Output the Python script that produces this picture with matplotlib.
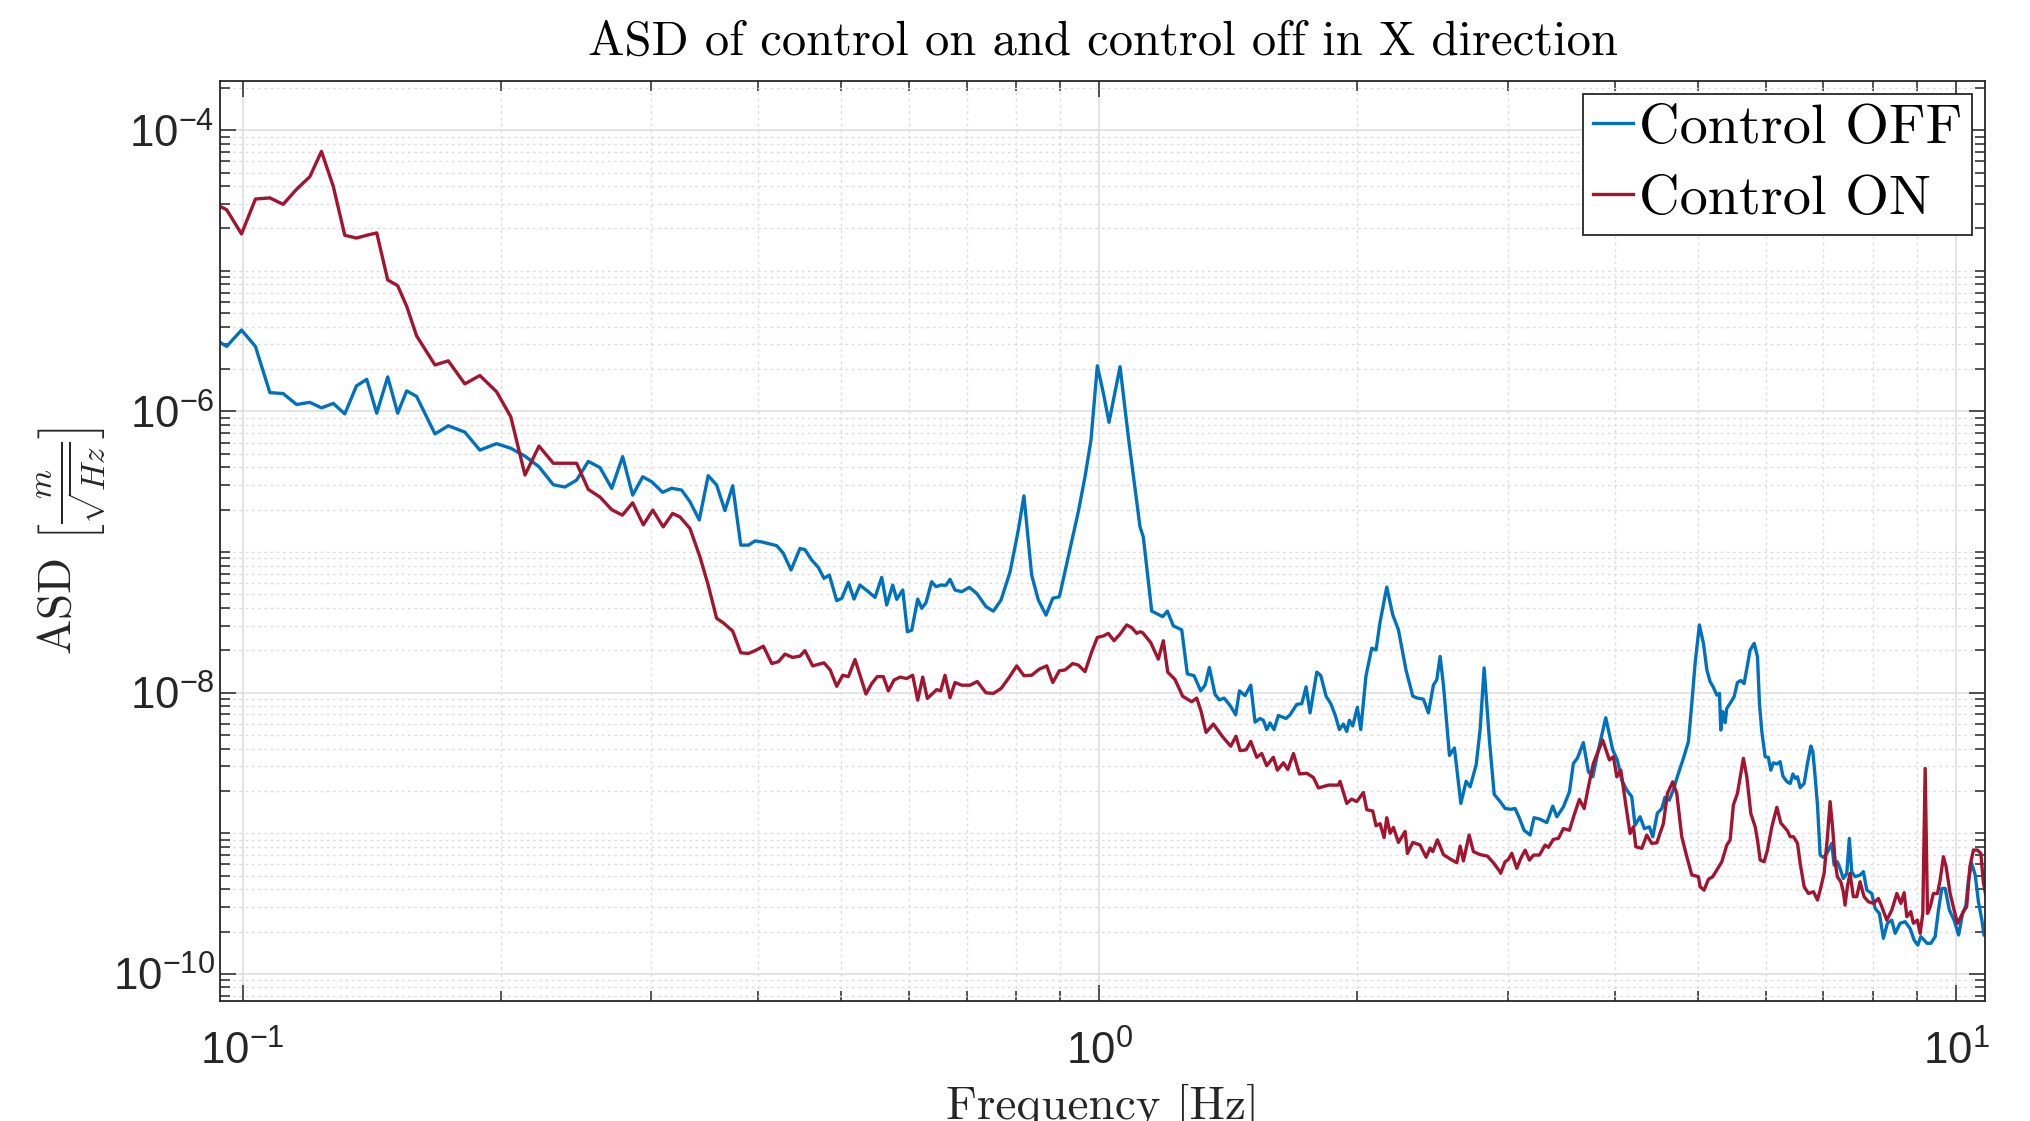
import numpy as np
import matplotlib
matplotlib.use("Agg")
import matplotlib.pyplot as plt
from matplotlib import font_manager
from matplotlib.ticker import FixedLocator, FuncFormatter, NullFormatter

# ASD with control OFF (blue)
freq_off = [
    0.0936, 0.0958, 0.0997, 0.1035, 0.1076, 0.1115, 0.1156, 0.1198, 0.1236, 0.1276,
    0.1316, 0.1358, 0.1396, 0.1434, 0.1477, 0.1517, 0.1554, 0.1596, 0.1677, 0.1738,
    0.1817, 0.1892, 0.1979, 0.2056, 0.2136, 0.2218, 0.2305, 0.2378, 0.2454, 0.2532,
    0.2613, 0.2697, 0.2777, 0.2853, 0.2931, 0.3003, 0.3092, 0.3168, 0.3254, 0.3328,
    0.3412, 0.3495, 0.3575, 0.3656, 0.3733, 0.3815, 0.3894, 0.3965, 0.4036, 0.4202,
    0.4277, 0.4367, 0.4473, 0.4533, 0.4616, 0.4699, 0.4771, 0.4840, 0.4937, 0.5005,
    0.5094, 0.5172, 0.5256, 0.5375, 0.5473, 0.5572, 0.5647, 0.5739, 0.5801, 0.5896,
    0.5970, 0.6040, 0.6138, 0.6205, 0.6276, 0.6372, 0.6447, 0.6529, 0.6622, 0.6694,
    0.6785, 0.6909, 0.7050, 0.7193, 0.7374, 0.7522, 0.7679, 0.7868, 0.8043, 0.8166,
    0.8337, 0.8488, 0.8665, 0.8824, 0.8982, 0.9201, 0.9452, 0.9623, 0.9779, 0.9947,
    1.0109, 1.0264, 1.0573, 1.0811, 1.1156, 1.1255, 1.1512, 1.1858, 1.2007, 1.2203,
    1.2479, 1.2669, 1.2900, 1.3132, 1.3287, 1.3442, 1.3649, 1.3808, 1.3984, 1.4212,
    1.4430, 1.4573, 1.4796, 1.5023, 1.5198, 1.5403, 1.5541, 1.5682, 1.5823, 1.5993,
    1.6181, 1.6519, 1.6697, 1.7001, 1.7232, 1.7433, 1.7620, 1.7941, 1.8135, 1.8395,
    1.8628, 1.8845, 1.9065, 1.9269, 1.9446, 1.9584, 1.9762, 2.0008, 2.0192, 2.0479,
    2.0797, 2.1038, 2.1266, 2.1654, 2.2007, 2.2343, 2.2807, 2.3225, 2.3511, 2.3893,
    2.4219, 2.4546, 2.4773, 2.4992, 2.5217, 2.5627, 2.5972, 2.6424, 2.6803, 2.7094,
    2.7535, 2.7830, 2.8130, 2.8536, 2.8901, 2.9371, 2.976, 3.022, 3.057, 3.093,
    3.132, 3.183, 3.217, 3.269, 3.329, 3.383, 3.420, 3.481, 3.538, 3.576,
    3.614, 3.673, 3.723, 3.767, 3.824, 3.901, 3.975, 4.024, 4.072, 4.127,
    4.183, 4.220, 4.278, 4.327, 4.386, 4.426, 4.481, 4.535, 4.574, 4.627,
    4.677, 4.742, 4.806, 4.871, 4.916, 4.960, 5.017, 5.072, 5.119, 5.163,
    5.210, 5.257, 5.295, 5.314, 5.343, 5.377, 5.400, 5.449, 5.508, 5.557,
    5.608, 5.658, 5.699, 5.750, 5.813, 5.865, 5.896, 5.934, 5.987, 6.039,
    6.079, 6.122, 6.178, 6.233, 6.279, 6.347, 6.404, 6.450, 6.490, 6.531,
    6.578, 6.649, 6.708, 6.769, 6.806, 6.848, 6.891, 6.941, 7.003, 7.067,
    7.161, 7.206, 7.269, 7.322, 7.387, 7.456, 7.507, 7.556, 7.623, 7.726,
    7.796, 7.868, 7.974, 8.046, 8.139, 8.227, 8.316, 8.414, 8.491, 8.605,
    8.722, 8.839, 8.935, 9.024, 9.098, 9.180, 9.247, 9.347, 9.455, 9.539,
    9.625, 9.712, 9.824, 9.949, 10.07, 10.18, 10.27, 10.34, 10.43, 10.53,
    10.62, 10.72, 10.78, 10.84,
]
asd_off = [
    3.16e-6, 2.90e-6, 3.79e-6, 2.90e-6, 1.36e-6, 1.34e-6, 1.12e-6, 1.16e-6, 1.06e-6, 1.14e-6,
    9.60e-7, 1.52e-6, 1.69e-6, 9.71e-7, 1.76e-6, 9.71e-7, 1.40e-6, 1.28e-6, 6.92e-7, 7.91e-7,
    7.13e-7, 5.31e-7, 5.90e-7, 5.47e-7, 4.81e-7, 4.04e-7, 3.01e-7, 2.90e-7, 3.25e-7, 4.41e-7,
    3.99e-7, 2.84e-7, 4.77e-7, 2.54e-7, 3.43e-7, 3.16e-7, 2.66e-7, 2.84e-7, 2.76e-7, 2.28e-7,
    1.69e-7, 3.49e-7, 3.00e-7, 1.97e-7, 2.96e-7, 1.12e-7, 1.12e-7, 1.20e-7, 1.18e-7, 1.11e-7,
    9.79e-8, 7.45e-8, 1.06e-7, 1.04e-7, 8.77e-8, 7.78e-8, 6.50e-8, 6.86e-8, 4.51e-8, 4.69e-8,
    6.09e-8, 4.63e-8, 5.82e-8, 5.22e-8, 4.76e-8, 6.61e-8, 4.20e-8, 5.82e-8, 4.61e-8, 5.37e-8,
    2.71e-8, 2.78e-8, 4.63e-8, 3.98e-8, 4.36e-8, 6.15e-8, 5.67e-8, 5.82e-8, 5.80e-8, 6.40e-8,
    5.37e-8, 5.22e-8, 5.61e-8, 5.08e-8, 4.09e-8, 3.80e-8, 4.56e-8, 7.24e-8, 1.43e-7, 2.51e-7,
    6.86e-8, 4.56e-8, 3.56e-8, 4.69e-8, 4.81e-8, 9.27e-8, 1.94e-7, 3.43e-7, 6.27e-7, 2.11e-6,
    1.35e-6, 8.36e-7, 2.08e-6, 6.60e-7, 1.51e-7, 1.28e-7, 3.80e-8, 3.47e-8, 3.80e-8, 2.98e-8,
    2.80e-8, 1.36e-8, 1.32e-8, 1.03e-8, 1.13e-8, 1.51e-8, 9.72e-9, 8.87e-9, 9.15e-9, 8.10e-9,
    6.96e-9, 1.03e-8, 9.54e-9, 1.13e-8, 6.17e-9, 6.55e-9, 6.36e-9, 5.46e-9, 6.09e-9, 5.46e-9,
    6.88e-9, 6.55e-9, 6.96e-9, 8.25e-9, 8.35e-9, 1.10e-8, 7.18e-9, 1.40e-8, 1.32e-8, 9.43e-9,
    8.35e-9, 6.96e-9, 5.46e-9, 5.98e-9, 5.30e-9, 6.36e-9, 5.80e-9, 7.86e-9, 5.46e-9, 1.32e-8,
    2.07e-8, 2.01e-8, 3.17e-8, 5.63e-8, 3.57e-8, 2.80e-8, 1.44e-8, 9.43e-9, 9.15e-9, 8.98e-9,
    7.18e-9, 1.13e-8, 1.24e-8, 1.81e-8, 1.13e-8, 3.58e-9, 4.04e-9, 1.63e-9, 2.34e-9, 2.14e-9,
    3.07e-9, 5.46e-9, 1.50e-8, 4.56e-9, 1.89e-9, 1.68e-9, 1.50e-9, 1.48e-9, 1.50e-9, 1.28e-9,
    1.05e-9, 9.71e-10, 1.29e-9, 1.26e-9, 1.19e-9, 1.56e-9, 1.31e-9, 1.54e-9, 1.97e-9, 3.14e-9,
    3.41e-9, 4.41e-9, 2.74e-9, 2.52e-9, 3.91e-9, 6.63e-9, 3.91e-9, 3.32e-9, 2.39e-9, 2.03e-9,
    1.82e-9, 1.14e-9, 1.31e-9, 1.08e-9, 1.11e-9, 9.44e-10, 1.39e-9, 1.50e-9, 1.80e-9, 1.72e-9,
    2.03e-9, 2.67e-9, 3.41e-9, 4.48e-9, 8.39e-9, 1.62e-8, 3.03e-8, 2.24e-8, 1.45e-8, 1.20e-8,
    1.09e-8, 9.61e-9, 9.88e-9, 5.42e-9, 7.32e-9, 6.11e-9, 7.73e-9, 8.39e-9, 9.36e-9, 1.18e-8,
    1.22e-8, 1.16e-8, 1.49e-8, 2.01e-8, 2.24e-8, 1.80e-8, 8.39e-9, 5.27e-9, 3.50e-9, 3.46e-9,
    2.81e-9, 3.17e-9, 3.11e-9, 3.23e-9, 2.55e-9, 2.33e-9, 2.26e-9, 2.64e-9, 2.46e-9, 2.52e-9,
    2.11e-9, 2.26e-9, 3.14e-9, 4.17e-9, 3.80e-9, 2.52e-9, 1.59e-9, 7.00e-10, 6.73e-10, 7.19e-10,
    8.47e-10, 5.94e-10, 6.27e-10, 5.62e-10, 4.77e-10, 5.18e-10, 9.19e-10, 5.33e-10, 4.91e-10, 5.04e-10,
    5.33e-10, 3.94e-10, 3.73e-10, 2.92e-10, 2.69e-10, 1.79e-10, 2.29e-10, 2.41e-10, 1.94e-10, 2.29e-10,
    2.35e-10, 2.10e-10, 1.74e-10, 1.60e-10, 1.84e-10, 1.74e-10, 1.65e-10, 1.65e-10, 1.84e-10, 2.84e-10,
    4.05e-10, 4.05e-10, 2.84e-10, 2.41e-10, 1.89e-10, 2.69e-10, 3.08e-10, 4.65e-10, 6.10e-10, 5.04e-10,
    3.26e-10, 2.41e-10, 1.89e-10, 1.84e-10,
]

# ASD with control ON (red)
freq_on = [
    0.0936, 0.0958, 0.0997, 0.1035, 0.1076, 0.1115, 0.1156, 0.1198, 0.1236, 0.1276,
    0.1316, 0.1358, 0.1396, 0.1434, 0.1477, 0.1517, 0.1554, 0.1596, 0.1677, 0.1738,
    0.1817, 0.1892, 0.1979, 0.2056, 0.2136, 0.2218, 0.2305, 0.2454, 0.2532, 0.2613,
    0.2697, 0.2775, 0.2853, 0.2936, 0.3011, 0.3097, 0.3176, 0.3239, 0.3328, 0.3418,
    0.3495, 0.3575, 0.3639, 0.3733, 0.3815, 0.3894, 0.3965, 0.4054, 0.4147, 0.4220,
    0.4297, 0.4385, 0.4473, 0.4533, 0.4628, 0.4720, 0.4771, 0.4851, 0.4937, 0.5018,
    0.5094, 0.5186, 0.5256, 0.5341, 0.5424, 0.5506, 0.5596, 0.5672, 0.5760, 0.5853,
    0.5959, 0.6055, 0.6138, 0.6221, 0.6299, 0.6458, 0.6529, 0.6605, 0.6694, 0.6785,
    0.6909, 0.7065, 0.7204, 0.7374, 0.7522, 0.7679, 0.7831, 0.8009, 0.8166, 0.8337,
    0.8511, 0.8682, 0.8824, 0.8982, 0.9120, 0.9310, 0.9452, 0.9623, 0.9797, 0.9947,
    1.0109, 1.0245, 1.0404, 1.0573, 1.0764, 1.0910, 1.1058, 1.1156, 1.1236, 1.1482,
    1.1718, 1.1877, 1.2019, 1.2256, 1.2511, 1.2818, 1.2992, 1.3143, 1.3323, 1.3587,
    1.3935, 1.4236, 1.4441, 1.4598, 1.4836, 1.5023, 1.5265, 1.5473, 1.5682, 1.5965,
    1.6140, 1.6402, 1.6596, 1.6850, 1.7124, 1.7466, 1.7780, 1.8023, 1.8511, 1.9011,
    1.9099, 1.9446, 1.9702, 1.9976, 2.0333, 2.0520, 2.0853, 2.1038, 2.1266, 2.1497,
    2.1654, 2.1850, 2.2043, 2.2343, 2.2749, 2.2890, 2.3225, 2.3682, 2.4069, 2.4329,
    2.4505, 2.4813, 2.5217, 2.5673, 2.6140, 2.6376, 2.6608, 2.7019, 2.7332, 2.7830,
    2.8379, 2.8840, 2.9371, 2.941, 2.976, 3.002, 3.030, 3.071, 3.104, 3.141,
    3.177, 3.212, 3.264, 3.314, 3.344, 3.388, 3.435, 3.481, 3.538, 3.583,
    3.634, 3.681, 3.723, 3.773, 3.869, 3.939, 3.982, 4.018, 4.062, 4.120,
    4.164, 4.202, 4.229, 4.298, 4.355, 4.414, 4.474, 4.554, 4.604, 4.670,
    4.721, 4.785, 4.850, 4.916, 5.004, 5.026, 5.081, 5.140, 5.200, 5.257,
    5.329, 5.400, 5.449, 5.497, 5.557, 5.647, 5.699, 5.761, 5.829, 5.865,
    5.907, 5.971, 6.024, 6.095, 6.178, 6.245, 6.301, 6.357, 6.404, 6.460,
    6.531, 6.578, 6.649, 6.726, 6.817, 6.891, 6.941, 7.015, 7.078, 7.129,
    7.181, 7.226, 7.269, 7.336, 7.387, 7.421, 7.468, 7.521, 7.589, 7.658,
    7.726, 7.810, 7.901, 8.009, 8.117, 8.192, 8.302, 8.414, 8.530, 8.622,
    8.698, 8.762, 8.855, 8.918, 9.014, 9.081, 9.146, 9.204, 9.262, 9.330,
    9.411, 9.514, 9.582, 9.667, 9.737, 9.843, 9.949, 10.04, 10.11, 10.20,
    10.29, 10.38, 10.48, 10.59, 10.69, 10.76, 10.84, 10.88,
]
asd_on = [
    2.92e-5, 2.72e-5, 1.83e-5, 3.24e-5, 3.30e-5, 2.97e-5, 3.80e-5, 4.67e-5, 7.07e-5, 3.98e-5,
    1.79e-5, 1.71e-5, 1.79e-5, 1.86e-5, 8.61e-6, 7.84e-6, 5.61e-6, 3.45e-6, 2.14e-6, 2.29e-6,
    1.57e-6, 1.80e-6, 1.38e-6, 9.16e-7, 3.53e-7, 5.67e-7, 4.28e-7, 4.28e-7, 2.79e-7, 2.46e-7,
    2.00e-7, 1.83e-7, 2.24e-7, 1.56e-7, 1.99e-7, 1.51e-7, 1.88e-7, 1.78e-7, 1.47e-7, 9.27e-8,
    5.82e-8, 3.38e-8, 3.14e-8, 2.74e-8, 1.92e-8, 1.90e-8, 1.99e-8, 2.14e-8, 1.61e-8, 1.66e-8,
    1.88e-8, 1.78e-8, 1.82e-8, 1.99e-8, 1.55e-8, 1.60e-8, 1.63e-8, 1.45e-8, 1.11e-8, 1.33e-8,
    1.30e-8, 1.72e-8, 1.33e-8, 9.77e-9, 1.16e-8, 1.30e-8, 1.30e-8, 1.03e-8, 1.23e-8, 1.29e-8,
    1.26e-8, 1.33e-8, 8.85e-9, 1.29e-8, 9.10e-9, 1.05e-8, 1.03e-8, 1.33e-8, 9.20e-9, 1.18e-8,
    1.13e-8, 1.13e-8, 1.20e-8, 9.97e-9, 9.88e-9, 1.07e-8, 1.26e-8, 1.55e-8, 1.32e-8, 1.33e-8,
    1.47e-8, 1.55e-8, 1.18e-8, 1.43e-8, 1.45e-8, 1.61e-8, 1.57e-8, 1.41e-8, 1.95e-8, 2.47e-8,
    2.53e-8, 2.64e-8, 2.34e-8, 2.61e-8, 3.03e-8, 2.90e-8, 2.64e-8, 2.71e-8, 2.67e-8, 2.27e-8,
    1.73e-8, 2.34e-8, 1.40e-8, 1.24e-8, 9.43e-9, 8.61e-9, 9.15e-9, 7.40e-9, 5.21e-9, 5.98e-9,
    4.84e-9, 4.16e-9, 4.90e-9, 3.87e-9, 3.92e-9, 4.50e-9, 3.47e-9, 3.69e-9, 3.02e-9, 3.47e-9,
    2.81e-9, 3.17e-9, 2.84e-9, 3.69e-9, 2.64e-9, 2.67e-9, 2.49e-9, 2.10e-9, 2.20e-9, 2.20e-9,
    2.34e-9, 1.63e-9, 1.75e-9, 1.68e-9, 1.95e-9, 1.47e-9, 1.44e-9, 1.13e-9, 1.17e-9, 9.31e-10,
    1.29e-9, 1.00e-9, 1.10e-9, 8.61e-10, 1.03e-9, 7.18e-10, 8.61e-10, 8.25e-10, 6.76e-10, 7.86e-10,
    7.40e-10, 8.98e-10, 7.05e-10, 6.56e-10, 6.17e-10, 8.11e-10, 6.36e-10, 9.72e-10, 7.40e-10, 7.05e-10,
    6.88e-10, 6.17e-10, 5.30e-10, 5.19e-10, 6.27e-10, 6.51e-10, 7.20e-10, 5.63e-10, 6.62e-10, 7.59e-10,
    6.44e-10, 6.99e-10, 7.00e-10, 8.24e-10, 7.94e-10, 9.05e-10, 9.20e-10, 1.08e-9, 1.05e-9, 1.35e-9,
    1.74e-9, 1.50e-9, 2.14e-9, 3.14e-9, 4.60e-9, 3.32e-9, 3.50e-9, 2.52e-9, 2.81e-9, 1.54e-9,
    9.97e-10, 1.11e-9, 8.02e-10, 7.81e-10, 9.71e-10, 8.47e-10, 8.55e-10, 1.17e-9, 1.92e-9, 2.32e-9,
    1.92e-9, 9.44e-10, 6.81e-10, 5.05e-10, 4.91e-10, 4.17e-10, 3.94e-10, 4.70e-10, 4.91e-10, 5.47e-10,
    6.27e-10, 8.24e-10, 8.94e-10, 1.59e-9, 1.92e-9, 3.41e-9, 2.52e-9, 1.38e-9, 1.11e-9, 8.94e-10,
    6.45e-10, 6.27e-10, 7.60e-10, 1.11e-9, 1.53e-9, 1.18e-9, 1.11e-9, 1.04e-9, 9.45e-10, 9.45e-10,
    8.47e-10, 6.10e-10, 4.16e-10, 3.73e-10, 3.84e-10, 3.35e-10, 3.94e-10, 5.18e-10, 9.45e-10, 1.68e-9,
    1.05e-9, 6.27e-10, 4.91e-10, 4.52e-10, 3.84e-10, 3.08e-10, 4.16e-10, 5.18e-10, 3.54e-10, 3.54e-10,
    4.52e-10, 3.54e-10, 3.26e-10, 3.17e-10, 3.44e-10, 3.00e-10, 2.41e-10, 2.84e-10, 3.73e-10, 3.17e-10,
    3.78e-10, 2.55e-10, 2.77e-10, 2.29e-10, 2.41e-10, 1.94e-10, 2.69e-10, 2.89e-9, 2.69e-10, 3.00e-10,
    3.73e-10, 3.73e-10, 4.65e-10, 6.81e-10, 5.78e-10, 3.73e-10, 2.84e-10, 2.29e-10, 2.48e-10, 2.77e-10,
    3.00e-10, 5.78e-10, 7.60e-10, 7.60e-10, 7.19e-10, 4.52e-10, 3.54e-10, 4.65e-10,
]

x_major = [0.1, 1.0, 10.0]
y_major = [1e-10, 1e-8, 1e-6, 1e-4]

color_off = '#0072BD'
color_on = '#A2142F'
axis_color = '#262626'

# tick labels in a Helvetica-like face
names = {f.name for f in font_manager.fontManager.ttflist}
tick_font = 'Liberation Sans' if 'Liberation Sans' in names else 'DejaVu Sans'
tick_size = 31.5

fig = plt.figure(figsize=(20.30, 11.21), dpi=100)
ax = fig.add_axes([0.10837, 0.10705, 0.86946, 0.82070])

ax.loglog(freq_off, asd_off, color=color_off, linewidth=2.4, label='Control OFF')
ax.loglog(freq_on, asd_on, color=color_on, linewidth=2.4, label='Control ON')

ax.set_xlim(0.0941, 10.81)
ax.set_ylim(10 ** -10.193, 10 ** -3.650)

# ticks: majors every decade on x, every two decades on y
x_minor = [k * 10.0 ** e for e in (-2, -1, 0, 1) for k in range(2, 10)]
y_minor = [k * 10.0 ** e for e in range(-11, -3) for k in range(1, 10)
           if not (k == 1 and 10.0 ** e in y_major)]
ax.xaxis.set_major_locator(FixedLocator(x_major))
ax.xaxis.set_minor_locator(FixedLocator(x_minor))
ax.yaxis.set_major_locator(FixedLocator(y_major))
ax.yaxis.set_minor_locator(FixedLocator(y_minor))

pow_fmt = FuncFormatter(lambda v, p: r'$\mathregular{10^{%d}}$' % int(round(np.log10(v))))
ax.xaxis.set_major_formatter(pow_fmt)
ax.yaxis.set_major_formatter(pow_fmt)
ax.xaxis.set_minor_formatter(NullFormatter())
ax.yaxis.set_minor_formatter(NullFormatter())

ax.tick_params(which='both', direction='in', top=True, right=True,
               color=axis_color, labelcolor=axis_color, width=1.1)
ax.tick_params(which='major', length=11.5, labelsize=tick_size, labelfontfamily=tick_font)
ax.tick_params(which='minor', length=7)
ax.tick_params(axis='x', which='major', pad=21)
ax.tick_params(axis='y', which='major', pad=4)

for s in ax.spines.values():
    s.set_color(axis_color)
    s.set_linewidth(1.3)

ax.grid(True, which='major', color='#dcdcdc', linewidth=1.1, linestyle='-')
ax.grid(True, which='minor', color='#dedede', linewidth=1.0, linestyle=(0, (2, 2.5)))
ax.set_axisbelow(True)

ax.set_title('ASD of control on and control off in X direction',
             fontfamily='cmr10', fontsize=35, pad=19, color='black')
ax.set_xlabel('Frequency [Hz]', fontfamily='cmr10', fontsize=34, color=axis_color)
ax.xaxis.set_label_coords(0.5, -0.128)
ax.xaxis.label.set_va('baseline')
ax.set_ylabel(r'ASD $\left[\frac{m}{\sqrt{Hz}}\right]$', fontfamily='cmr10',
              math_fontfamily='cm', fontsize=34, color=axis_color)
ax.yaxis.set_label_coords(-0.084, 0.5)
ax.yaxis.label.set_va('center')

leg = ax.legend(loc='upper right', prop={'family': 'cmr10', 'size': 40.5},
                fancybox=False, framealpha=1.0, edgecolor=axis_color,
                borderpad=0.17, borderaxespad=0.23, handlelength=0.72,
                handletextpad=0.1, labelspacing=0.37)
leg.get_frame().set_linewidth(1.3)

fig.savefig('out.png', dpi=100, facecolor='white')
